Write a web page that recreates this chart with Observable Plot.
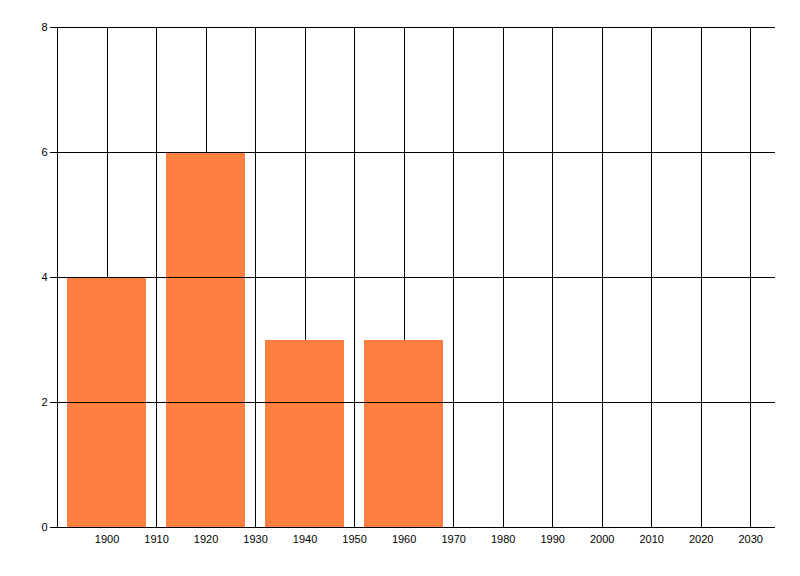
<!DOCTYPE html>
<html>
<head>
<meta charset="utf-8">
<script src="https://cdn.jsdelivr.net/npm/d3@7"></script>
<script src="https://cdn.jsdelivr.net/npm/@observablehq/plot@0.6"></script>
<style>
  html, body { margin: 0; padding: 0; background: #fff; }
  #chart svg { display: block; }
  #chart svg line, #chart svg rect, #chart svg path { shape-rendering: crispEdges; }
</style>
</head>
<body>
<div id="chart"></div>
<script>
const years = [1900, 1920, 1940, 1960];
const counts = [4, 6, 3, 3];
const binHalfWidth = 8;
const xTicks = [1900, 1910, 1920, 1930, 1940, 1950, 1960, 1970, 1980, 1990, 2000, 2010, 2020, 2030];
const yTicks = [0, 2, 4, 6, 8];
const xDomain = [1890, 2035];
const yDomain = [0, 8];

const data = years.map((y, i) => ({year: y, count: counts[i]}));

const chart = Plot.plot({
  width: 800,
  height: 576,
  marginLeft: 57,
  marginRight: 25,
  marginTop: 27,
  marginBottom: 49,
  style: {fontFamily: "'Liberation Sans', Arial, sans-serif", fontSize: "11px", color: "#000", background: "#fff"},
  x: {domain: xDomain, ticks: xTicks, tickFormat: d => String(d), label: null},
  y: {domain: yDomain, ticks: yTicks, label: null},
  marks: [
    Plot.ruleX(xTicks, {y1: 0, y2: 8, stroke: "#000", strokeWidth: 1}),
    Plot.rectX(data, {x1: d => d.year - binHalfWidth, x2: d => d.year + binHalfWidth, y1: 0, y2: "count", fill: "#FF7F41"}),
    Plot.ruleY(yTicks.filter(d => d > 0), {stroke: "#000", strokeWidth: 1}),
    Plot.ruleX([xDomain[0]], {y1: 0, y2: 8, stroke: "#000", strokeWidth: 1}),
    Plot.ruleY([0], {stroke: "#000", strokeWidth: 1}),
    Plot.axisY({ticks: yTicks, tickSize: 7, tickPadding: 3, tickFormat: d => String(d), label: null}),
    Plot.axisX({ticks: xTicks, tickSize: 0, tickPadding: 8, tickFormat: d => String(d), label: null})
  ]
});
document.getElementById("chart").appendChild(chart);
</script>
</body>
</html>
